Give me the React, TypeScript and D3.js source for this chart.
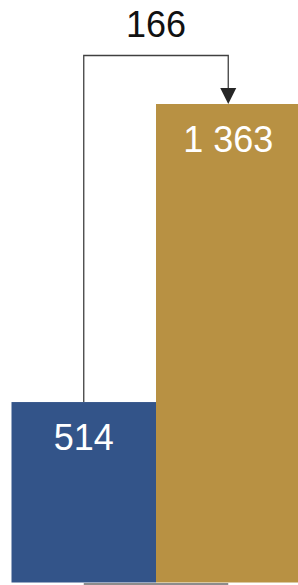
import React, { useEffect, useRef } from 'react';
import * as d3 from 'd3';

const categories = ['before', 'after'];
const values = [514, 1363];
const valueLabels = ['514', '1 363'];
const colors = ['#335489', '#b89143'];
const changeLabel = '166';

const width = 298;
const height = 585;
const font = '"Liberation Sans", Arial, sans-serif';

const App = () => {
  const svgRef = useRef<SVGSVGElement>(null);

  useEffect(() => {
    const svg = d3.select(svgRef.current);
    svg.selectAll('*').remove();

    const x = d3.scaleBand().domain(categories).range([11.5, 300.5]).padding(0);
    const y = d3.scaleLinear().domain([0, 1363]).range([582.5, 104]);

    // faint baseline between the bar centres
    svg.append('line')
      .attr('x1', x(categories[0])! + x.bandwidth() / 2)
      .attr('x2', x(categories[1])! + x.bandwidth() / 2)
      .attr('y1', 584)
      .attr('y2', 584)
      .attr('stroke', '#8c8c8c')
      .attr('stroke-width', 2);

    svg.selectAll('rect.bar')
      .data(values)
      .enter()
      .append('rect')
      .attr('class', 'bar')
      .attr('x', (d, i) => x(categories[i])!)
      .attr('y', d => y(d))
      .attr('width', x.bandwidth())
      .attr('height', d => y(0) - y(d))
      .attr('fill', (d, i) => colors[i]);

    svg.selectAll('text.val')
      .data(values)
      .enter()
      .append('text')
      .attr('class', 'val')
      .attr('x', (d, i) => x(categories[i])! + x.bandwidth() / 2)
      .attr('y', d => y(d) + 47.5)
      .attr('text-anchor', 'middle')
      .style('font-family', font)
      .style('font-size', '36px')
      .style('fill', '#fff')
      .text((d, i) => valueLabels[i]);

    // connector with arrow
    const x0 = x(categories[0])! + x.bandwidth() / 2;
    const x1 = x(categories[1])! + x.bandwidth() / 2;
    const topY = 55.5;
    const arrowH = 16;
    const tipY = y(values[1]);

    svg.append('path')
      .attr('d', `M${x0},${y(values[0])} V${topY} H${x1} V${tipY - arrowH}`)
      .attr('fill', 'none')
      .attr('stroke', '#404040')
      .attr('stroke-width', 1.3);

    svg.append('path')
      .attr('d', `M${x1 - 8},${tipY - arrowH} L${x1 + 8},${tipY - arrowH} L${x1},${tipY} Z`)
      .attr('fill', '#262626');

    svg.append('text')
      .attr('x', (x0 + x1) / 2)
      .attr('y', 37)
      .attr('text-anchor', 'middle')
      .style('font-family', font)
      .style('font-size', '36px')
      .style('fill', '#111')
      .text(changeLabel);
  }, []);

  return (
    <svg
      ref={svgRef}
      width={width}
      height={height}
      style={{ position: 'absolute', left: 0, top: 0, background: '#fff' }}
    />
  );
};

export default App;
